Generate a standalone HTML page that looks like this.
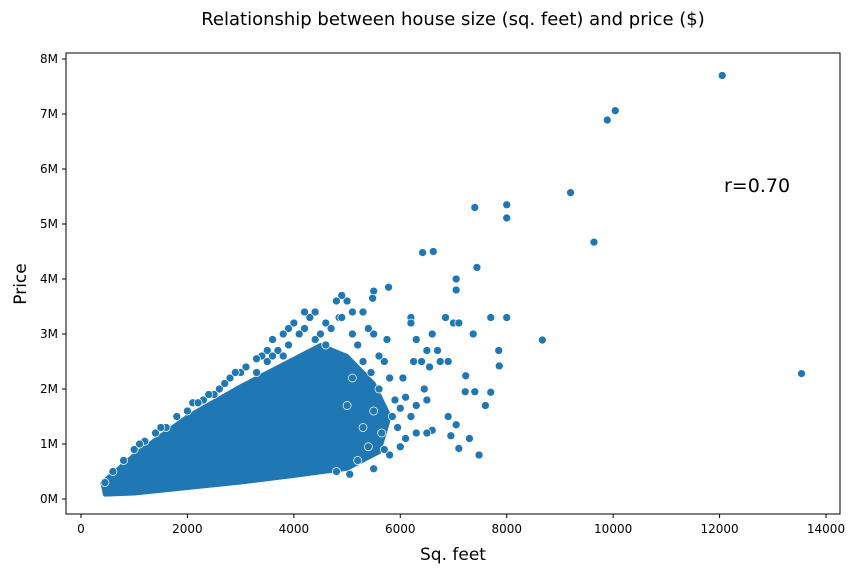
<!DOCTYPE html>
<html><head><meta charset="utf-8"><style>
body{margin:0;background:#fff;font-family:"Liberation Sans","DejaVu Sans",sans-serif}
svg text{font-family:"DejaVu Sans","Liberation Sans",sans-serif}
</style></head><body>
<svg id="chart" width="861" height="574" xmlns="http://www.w3.org/2000/svg">
<text x="453" y="25" text-anchor="middle" font-size="18">Relationship between house size (sq. feet) and price ($)</text>
<g id="marks"></g>
<rect x="66" y="53" width="774" height="461" fill="none" stroke="#000" stroke-width="1"/>
<g id="xt"></g>
<g id="yt"></g>
<text x="453" y="560" text-anchor="middle" font-size="17">Sq. feet</text>
<text x="26" y="284" text-anchor="middle" font-size="17" transform="rotate(-90 26 284)">Price</text>
<text x="724" y="192" font-size="19">r=0.70</text>
</svg>
<script>
const xTicks=[0,2000,4000,6000,8000,10000,12000,14000];
const yTicks=[0,1,2,3,4,5,6,7,8];
const yTickLabels=["0M","1M","2M","3M","4M","5M","6M","7M","8M"];
const coreUpper=[[400,0.3],[1000,0.8],[2000,1.5],[3000,2.05],[4000,2.55],[4500,2.8],[5000,2.6],[5500,2.1],[5800,1.5]];
const coreLower=[[5600,0.85],[5000,0.55],[4000,0.42],[3000,0.3],[2000,0.2],[1000,0.1],[450,0.08]];
const sqft=[12050,10040,9890,9200,8000,8000,7400,9640,6620,6420,7440,7050,7050,5780,5500,5480,8670,13540,8000,7700,6200,6200,7000,6850,7100,6750,6900,6600,7370,7850,7860,6500,6400,6550,7230,7220,7400,7700,7600,6900,7050,6950,7300,7100,7480,6600,6500,6300,6100,6000,5950,5800,5700,5500,5200,5050,4800,6450,6500,6300,6200,6000,5900,5800,5700,5750,5600,5500,5400,5300,5100,5000,4900,4800,4850,4600,4400,4300,4200,4000,3900,3800,3600,3500,3400,3300,3100,3000,2800,2600,2500,2300,2100,2000,1800,1600,1400,1200,1000,800,600,450,5600,5500,5300,5400,5100,5000,6700,6300,6250,6050,6100,5850,5650,5450,5200,5300,4200,4100,3900,3700,3500,3300,4500,4700,4900,5100,4400,4600,3800,3600,2900,2700,2400,2200,1500,1100];
const price=[7.7,7.06,6.89,5.57,5.35,5.11,5.3,4.67,4.5,4.48,4.21,4.0,3.8,3.85,3.78,3.65,2.89,2.28,3.3,3.3,3.3,3.2,3.2,3.3,3.2,2.5,2.5,3.0,3.0,2.7,2.42,2.7,2.5,2.4,2.24,1.95,1.95,1.94,1.7,1.5,1.35,1.15,1.1,0.92,0.8,1.25,1.2,1.2,1.1,0.95,1.3,0.8,0.9,0.55,0.7,0.45,0.5,2.0,1.8,1.7,1.5,1.65,1.8,2.2,2.5,2.9,2.6,3.0,3.1,3.4,3.4,3.6,3.7,3.6,3.3,3.2,3.4,3.3,3.1,3.2,3.1,3.0,2.9,2.7,2.6,2.55,2.4,2.3,2.2,2.0,1.9,1.8,1.75,1.6,1.5,1.3,1.2,1.05,0.9,0.7,0.5,0.3,2.0,1.6,1.3,0.95,2.2,1.7,2.7,2.9,2.5,2.2,1.85,1.5,1.2,2.3,2.8,2.5,3.4,3.0,2.8,2.7,2.5,2.3,3.0,3.1,3.3,3.0,2.9,2.8,2.6,2.6,2.3,2.1,1.9,1.75,1.3,1.0];
const NS="http://www.w3.org/2000/svg";
const xs=v=>81+v*(745/14000);
const ys=v=>499-v*55;
const marks=document.getElementById('marks');
const poly=document.createElementNS(NS,'polygon');


poly.setAttribute('points',coreUpper.concat(coreLower).map(p=>xs(p[0])+','+ys(p[1])).join(' '));
poly.setAttribute('fill','#1f77b4');poly.setAttribute('stroke','#1f77b4');poly.setAttribute('stroke-width','4');poly.setAttribute('stroke-linejoin','round');
marks.appendChild(poly);
for(let i=0;i<sqft.length;i++){
 const c=document.createElementNS(NS,'circle');
 
 
 c.setAttribute('cx',xs(sqft[i]));c.setAttribute('cy',ys(price[i]));c.setAttribute('r',4);
 c.setAttribute('fill','#1f77b4');c.setAttribute('stroke','#fff');c.setAttribute('stroke-width','0.7');
 marks.appendChild(c);
}
const xt=document.getElementById('xt');
xTicks.forEach(v=>{
 const l=document.createElementNS(NS,'line');
 
 
 l.setAttribute('x1',xs(v));l.setAttribute('x2',xs(v));l.setAttribute('y1',514);l.setAttribute('y2',518);l.setAttribute('stroke','#000');
 xt.appendChild(l);
 const t=document.createElementNS(NS,'text');
 
 
 t.setAttribute('x',xs(v));t.setAttribute('y',533);t.setAttribute('text-anchor','middle');t.setAttribute('font-size','12');
 t.textContent=v;xt.appendChild(t);
});
const yt=document.getElementById('yt');
yTicks.forEach((v,i)=>{
 const l=document.createElementNS(NS,'line');
 
 
 l.setAttribute('x1',62);l.setAttribute('x2',66);l.setAttribute('y1',ys(v));l.setAttribute('y2',ys(v));l.setAttribute('stroke','#000');
 yt.appendChild(l);
 const t=document.createElementNS(NS,'text');
 
 
 t.setAttribute('x',58);t.setAttribute('y',ys(v)+4);t.setAttribute('text-anchor','end');t.setAttribute('font-size','12');
 t.textContent=yTickLabels[i];yt.appendChild(t);
});
</script>
</body></html>
